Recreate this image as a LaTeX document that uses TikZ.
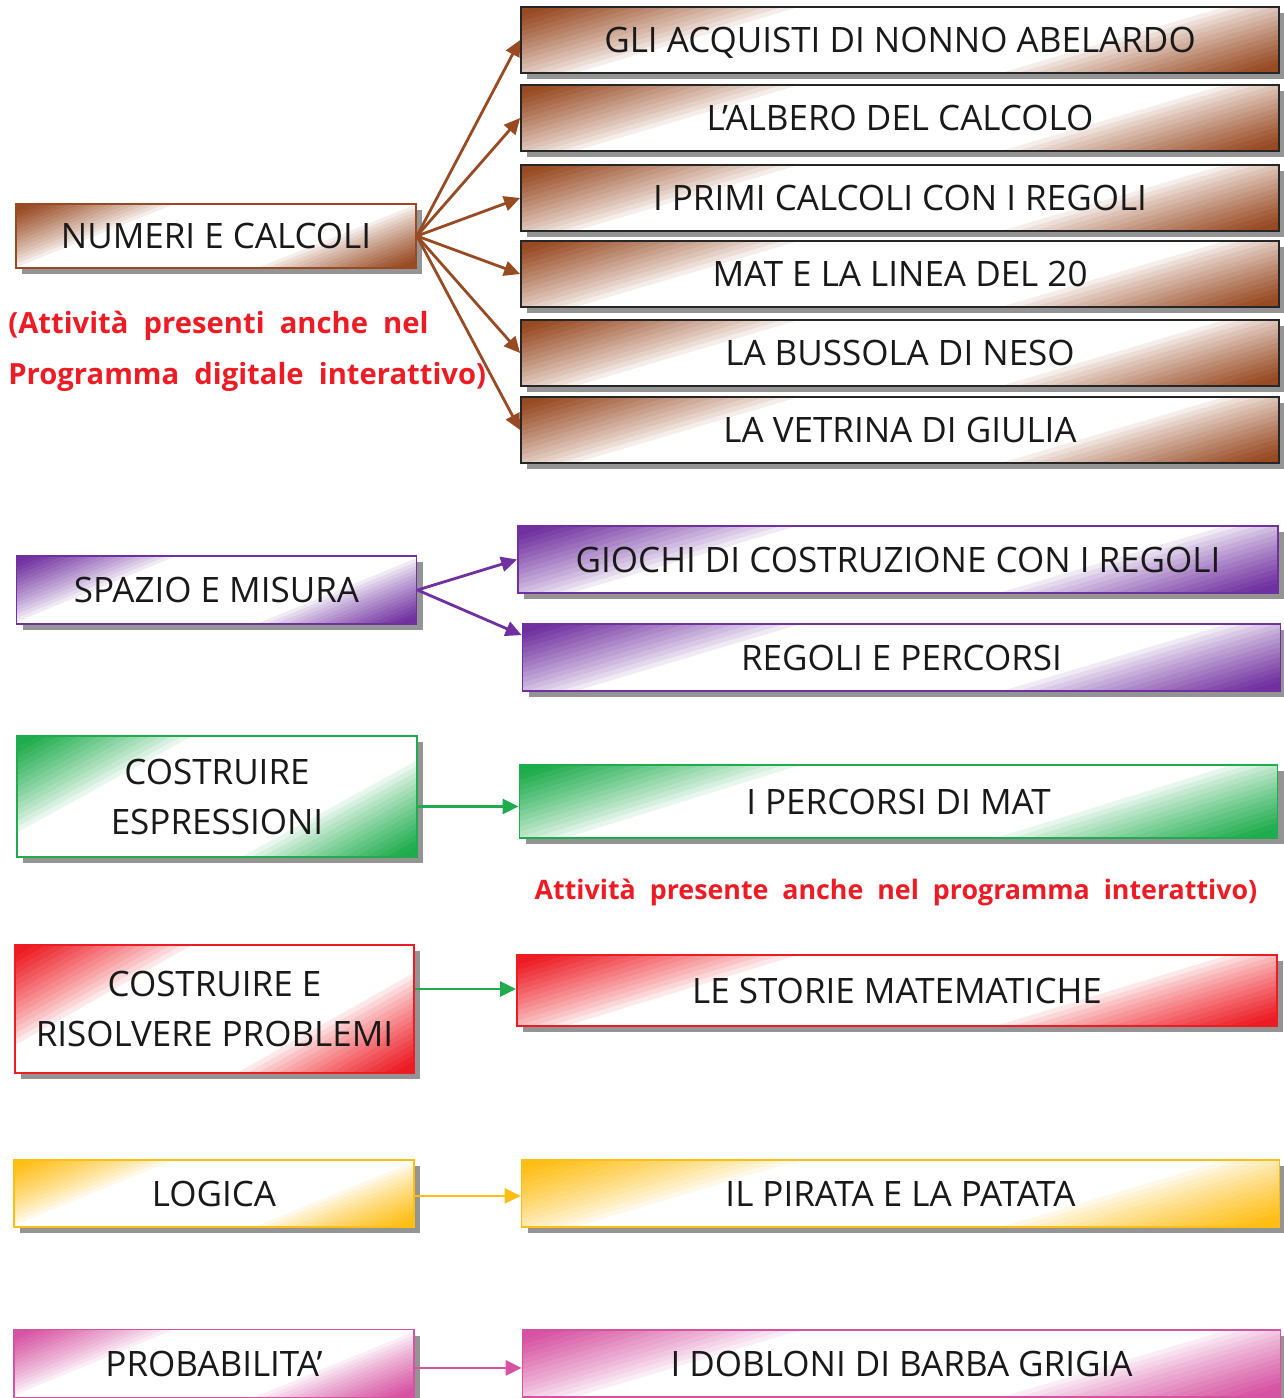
\documentclass[tikz,border=0pt]{standalone}
\usepackage{fontspec}
\setmainfont{Open Sans}
\usetikzlibrary{arrows.meta,shadows,calc}
\definecolor{cbrown}{RGB}{152,74,34}
\definecolor{cpurple}{RGB}{112,48,160}
\definecolor{cgreen}{RGB}{30,172,76}
\definecolor{cred}{RGB}{237,28,36}
\definecolor{cyellow}{RGB}{255,190,20}
\definecolor{cpink}{RGB}{214,82,162}
\definecolor{ctext}{RGB}{237,28,36}
\makeatletter
\newcommand\diagfill[1]{%
  \pgfpointanchor{path picture bounding box}{south west}%
  \edef\dfxa{\strip@pt\pgf@x}\edef\dfya{\strip@pt\pgf@y}%
  \pgfpointanchor{path picture bounding box}{north east}%
  \edef\dfxb{\strip@pt\pgf@x}\edef\dfyb{\strip@pt\pgf@y}%
  \pgfmathsetmacro\dfW{\dfxb-\dfxa}%
  \pgfmathsetmacro\dfH{\dfyb-\dfya}%
  \pgfmathsetmacro\dfX{(\dfxa+\dfxb)/2}%
  \pgfmathsetmacro\dfY{(\dfya+\dfyb)/2}%
  \pgfmathsetmacro\dfr{1.0*sqrt(\dfW/\dfH)}%
  \pgfmathsetmacro\dfg{\dfW/2+\dfr*\dfH/2}%
  \pgfmathsetmacro\yA{\dfY-\dfH}%
  \pgfmathsetmacro\yC{\dfY+\dfH}%
  \foreach \i in {0,...,59}{%
    \pgfmathsetmacro\ca{(-1+\i/30)*\dfg}%
    \pgfmathsetmacro\cb{(-1+(\i+1.2)/30)*\dfg}%
    \pgfmathsetmacro\dd{abs(-1+(\i+0.5)/30)}%
    \pgfmathsetmacro\tt{max(0.0001,min(1,(\dd-0.42)/0.52))}%
    \pgfmathsetmacro\pp{100*(\tt^0.8)}%
    \pgfmathsetmacro\xA{\dfX+\ca-\dfr*\dfH}%
    \pgfmathsetmacro\xB{\dfX+\cb-\dfr*\dfH}%
    \pgfmathsetmacro\xC{\dfX+\cb+\dfr*\dfH}%
    \pgfmathsetmacro\xD{\dfX+\ca+\dfr*\dfH}%
    \fill[#1!\pp!white] (\xA pt,\yA pt) -- (\xB pt,\yA pt) -- (\xC pt,\yC pt) -- (\xD pt,\yC pt) -- cycle;
  }%
}
\makeatother
\tikzset{
  gbox/.style={path picture={\diagfill{#1}},
    draw=#1, line width=0.9pt, inner sep=0pt, align=center,
    drop shadow={shadow xshift=3pt, shadow yshift=-3pt, fill=black!42, opacity=1},
    font=\fontsize{17.5}{25}\selectfont, text=black!90},
  one/.style={text height=12.5pt, text depth=0pt},
  lsize/.style={minimum width=200pt, minimum height=#1},
  rsize/.style={minimum width=379pt, minimum height=#1, one},
  rtext/.style={font=\bfseries\fontsize{14.6}{20}\selectfont, text=ctext, inner sep=0pt},
  conn/.style={draw=#1, line width=1.4pt, -{Triangle[length=8pt,width=7.5pt]}}
}
\begin{document}
\begin{tikzpicture}[x=0.5pt,y=-0.5pt]
\useasboundingbox (0,0) rectangle (1284,1398);
% left column
\node[gbox=cbrown, lsize=32pt, one] (L1) at (216,236) {NUMERI E CALCOLI};
\node[rtext, anchor=west] (n1) at (8,326) {(Attività\ \ presenti\ \ anche\ \ nel};
\node[rtext, anchor=west] (n2) at (8,377) {Programma\ \ digitale\ \ interattivo)};
\node[gbox=cpurple, lsize=34pt, one] (L2) at (216.5,590) {SPAZIO E MISURA};
\node[gbox=cgreen, lsize=60.5pt] (L3) at (217,796.5) {COSTRUIRE\\ESPRESSIONI};
\node[gbox=cred, lsize=64pt, minimum width=199.5pt] (L4) at (214.5,1009) {COSTRUIRE E\\RISOLVERE PROBLEMI};
\node[gbox=cyellow, lsize=33.5pt, one] (L5) at (214,1193.5) {LOGICA};
\node[gbox=cpink, lsize=34pt, one] (L6) at (214,1363.5) {PROBABILITA’};
% right column
\node[gbox=cbrown, draw=black!85, rsize=33pt] (R1) at (900,40) {GLI ACQUISTI DI NONNO ABELARDO};
\node[gbox=cbrown, draw=black!85, rsize=33pt] (R2) at (900,118) {L’ALBERO DEL CALCOLO};
\node[gbox=cbrown, draw=black!85, rsize=33pt] (R3) at (900,198) {I PRIMI CALCOLI CON I REGOLI};
\node[gbox=cbrown, draw=black!85, rsize=33pt] (R4) at (900,274) {MAT E LA LINEA DEL 20};
\node[gbox=cbrown, draw=black!85, rsize=33pt] (R5) at (900,353) {LA BUSSOLA DI NESO};
\node[gbox=cbrown, draw=black!85, rsize=33pt] (R6) at (900,430) {LA VETRINA DI GIULIA};
\node[gbox=cpurple, rsize=33.5pt, minimum width=380pt] (P1) at (898,559.5) {GIOCHI DI COSTRUZIONE CON I REGOLI};
\node[gbox=cpurple, rsize=33.5pt] (P2) at (901.5,657.5) {REGOLI E PERCORSI};
\node[gbox=cgreen, rsize=36.5pt] (G1) at (898.5,801.5) {I PERCORSI DI MAT};
\node[rtext, font=\bfseries\fontsize{13.4}{20}\selectfont] (n3) at (896,892) {Attività\ \ presente\ \ anche\ \ nel\ \ programma\ \ interattivo)};
\node[gbox=cred, rsize=35.5pt, minimum width=380pt] (D1) at (897,990.5) {LE STORIE MATEMATICHE};
\node[gbox=cyellow, rsize=33.5pt] (Y1) at (900.5,1193.5) {IL PIRATA E LA PATATA};
\node[gbox=cpink, rsize=33.5pt] (K1) at (901.5,1363.5) {I DOBLONI DI BARBA GRIGIA};
% connectors
\foreach \t in {R1,R2,R3,R4,R5,R6} \draw[conn=cbrown] (L1.east) -- (\t.west);
\draw[conn=cpurple] (L2.east) -- (P1.west);
\coordinate (p2in) at ($(P2.north west)+(0,-6pt)$);
\draw[conn=cpurple] (L2.east) -- (p2in);
\coordinate (ga) at ($(L3.east)+(0,-5pt)$);
\draw[conn=cgreen] (ga) -- (ga -| G1.west);
\coordinate (ra) at ($(L4.east)+(0,10pt)$);
\draw[conn=cgreen] (ra) -- (ra -| D1.west);
\coordinate (ya) at ($(L5.east)+(0,-1.2pt)$);
\draw[conn=cyellow] (ya) -- (ya -| Y1.west);
\coordinate (ka) at ($(L6.east)+(0,-2.2pt)$);
\draw[conn=cpink] (ka) -- (ka -| K1.west);
\end{tikzpicture}
\end{document}
